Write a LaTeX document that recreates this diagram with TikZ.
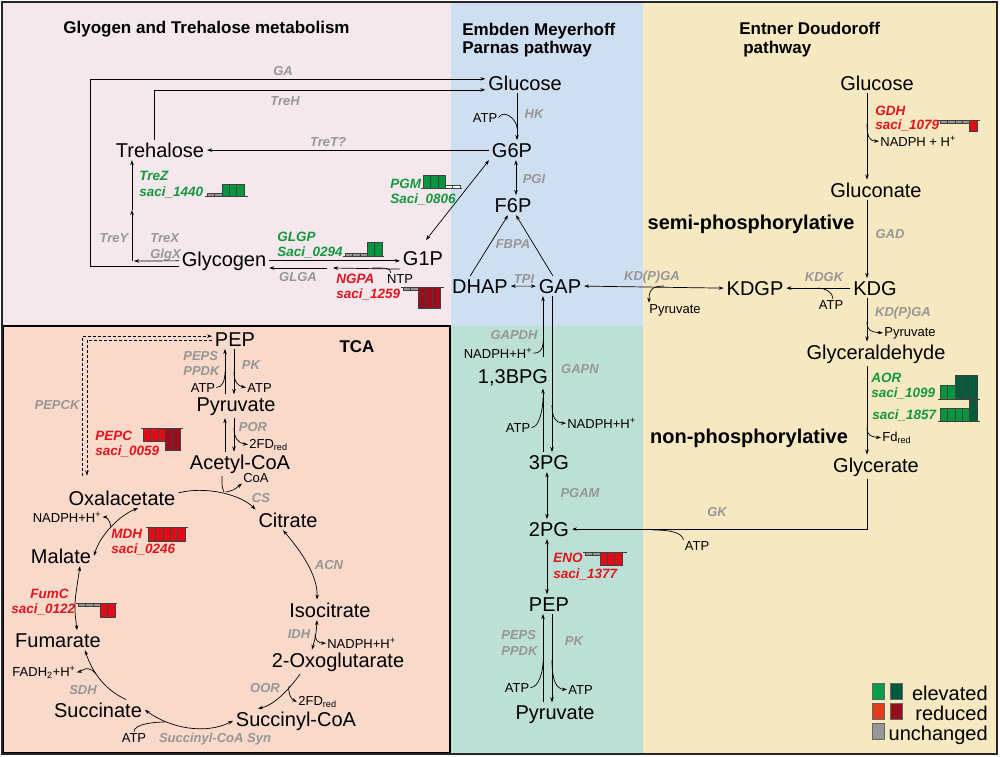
\documentclass[tikz,border=0pt]{standalone}
\usepackage{fontspec}
\setmainfont{Liberation Sans}
\usetikzlibrary{arrows.meta,calc}
\definecolor{bgPink}{RGB}{245,232,237}
\definecolor{bgBlue}{RGB}{207,223,242}
\definecolor{bgYel}{RGB}{246,232,192}
\definecolor{bgSal}{RGB}{249,217,202}
\definecolor{bgTeal}{RGB}{189,224,214}
\definecolor{enzGray}{RGB}{150,150,150}
\definecolor{geneGreen}{RGB}{20,150,60}
\definecolor{geneRed}{RGB}{228,18,28}
\definecolor{barLG}{RGB}{0,150,64}
\definecolor{barDG}{RGB}{0,92,58}
\definecolor{barLR}{RGB}{226,10,22}
\definecolor{barDR}{RGB}{152,14,30}
\definecolor{barGY}{RGB}{150,150,150}
\definecolor{legLG}{RGB}{0,158,74}
\definecolor{legDG}{RGB}{0,90,62}
\definecolor{legLR}{RGB}{226,60,30}
\definecolor{legDR}{RGB}{150,14,28}
\newcommand{\hbars}[4]{%
  \foreach \hh/\cc [count=\ii from 0] in {#4} {
    \filldraw[fill=\cc, draw=black!75, line width=0.4pt] ({#1+\ii*7.4},#2) rectangle ++(7.4,{-1*(\hh)});
  }
  \draw[line width=0.6pt, black!75] ({#1-2},#2) -- (#3,#2);
}
\begin{document}
\begin{tikzpicture}[x=1pt,y=-1pt,line width=0.7pt,
  met/.style={font=\fontsize{20}{22}\selectfont, inner sep=2pt, outer sep=1pt, anchor=base},
  sm/.style={font=\fontsize{13}{15}\selectfont, inner sep=1pt, anchor=base},
  enz/.style={font=\fontsize{13}{15}\selectfont\bfseries\itshape, text=enzGray, inner sep=0pt, anchor=base},
  gu/.style={font=\fontsize{13.5}{15}\selectfont\bfseries\itshape, text=geneGreen, inner sep=0pt, anchor=base west},
  gd/.style={font=\fontsize{13.5}{15}\selectfont\bfseries\itshape, text=geneRed, inner sep=0pt, anchor=base west},
  ttl/.style={font=\fontsize{17}{20}\selectfont\bfseries, inner sep=0pt, anchor=base west},
  big/.style={font=\fontsize{20}{22}\selectfont\bfseries, inner sep=0pt, anchor=base},
  leg/.style={font=\fontsize{20}{22}\selectfont, inner sep=0pt, anchor=base east},
  arr/.style={-{Stealth[length=5pt,width=3.5pt]}},
  darr/.style={{Stealth[length=5pt,width=3.5pt]}-{Stealth[length=5pt,width=3.5pt]}},
  dsh/.style={dash pattern=on 3pt off 2pt}]
\useasboundingbox (0,0) rectangle (1000,756);
% backgrounds
\fill[bgPink] (2,2) rectangle (451,326);
\fill[bgBlue] (451,2) rectangle (643,326);
\fill[bgYel] (643,2) rectangle (998,754);
\fill[bgSal] (3,326) rectangle (450,753);
\fill[bgTeal] (450,326) rectangle (643,754);
\draw[line width=1.5pt] (3,326) rectangle (450,753);
\draw[line width=2pt, black!85] (2,2) rectangle (997,754);

% ===== Glycogen / trehalose =====
\node[ttl] (t1) at (63,33) {Glyogen and Trehalose metabolism};
\node[met] (treh) at (160,157) {Trehalose};
\node[met] (glyc) at (224,266) {Glycogen};
\node[met] (g1p) at (423,265) {G1P};
\node[enz] (lGA) at (283,75) {GA};
\node[enz] (lTreH) at (285,105) {TreH};
\node[enz] (lTreT) at (328,146) {TreT?};
\node[enz] (lTreY) at (114,242) {TreY};
\node[enz, anchor=base west] (lTreX) at (150,242) {TreX};
\node[enz, anchor=base west] (lGlgX) at (150,258) {GlgX};
\node[enz] (lGLGA) at (298,281) {GLGA};
\node[sm] (ntp) at (400,283) {NTP};
\node[gu] (lTreZ) at (139,180) {TreZ};
\node[gu] (lTreZ2) at (139,196) {saci\_1440};
\node[gu] (lPGM) at (390,188) {PGM};
\node[gu] (lPGM2) at (390,203) {Saci\_0806};
\node[gu] (lGLGP) at (277,241) {GLGP};
\node[gu] (lGLGP2) at (277,256) {Saci\_0294};
\node[gd] (lNGPA) at (336,283) {NGPA};
\node[gd] (lNGPA2) at (336,298) {saci\_1259};
\hbars{207}{196}{248}{3/barGY,3/barGY,12/barLG,12/barLG,12/barLG}
\hbars{423}{188}{462}{13/barLG,13/barLG,13/barLG,3/white,3/white}
\hbars{345}{256}{384}{3/barGY,3/barGY,3/barGY,14/barLG,14/barLG}
\hbars{403}{287}{444}{-3/barGY,-3/barGY,-21/barDR,-21/barDR,-21/barDR}

% ===== EMP =====
\node[ttl] (t2a) at (462,35) {Embden Meyerhoff};
\node[ttl] (t2b) at (462,53) {Parnas pathway};
\node[met] (gluE) at (525,90) {Glucose};
\node[met] (g6p) at (512,157) {G6P};
\node[met] (f6p) at (513,212) {F6P};
\node[met] (dhap) at (480,293) {DHAP};
\node[met] (gap) at (560,293) {GAP};
\node[sm] (atp1) at (485,122) {ATP};
\node[enz] (lHK) at (534,118) {HK};
\node[enz] (lPGI) at (534,183) {PGI};
\node[enz] (lFBPA) at (513,248) {FBPA};
\node[enz] (lTPI) at (524,283) {TPI};
\node[enz] (lKDPGA1) at (652,280) {KD(P)GA};
\node[sm] (pyrA) at (675,313) {Pyruvate};

% ===== ED =====
\node[ttl] (t3a) at (739,34) {Entner Doudoroff};
\node[ttl] (t3b) at (743,53) {pathway};
\node[met] (gluD) at (877,90) {Glucose};
\node[met] (gcn) at (876,197) {Gluconate};
\node[met] (kdg) at (875,295) {KDG};
\node[met] (kdgp) at (755,295) {KDGP};
\node[met] (gald) at (876,359) {Glyceraldehyde};
\node[met] (glyt) at (876,472) {Glycerate};
\node[big] (semi) at (751,229) {semi-phosphorylative};
\node[big] (nonp) at (749,443) {non-phosphorylative};
\node[gd] (lGDH) at (875,115) {GDH};
\node[gd] (lGDH2) at (875,129) {saci\_1079};
\hbars{940}{120}{980}{-3/barGY,-3/barGY,-3/barGY,-3/barGY,-11/barLR}
\node[sm, anchor=base west] (nadph1) at (879,146) {NADPH + H\textsuperscript{+}};
\node[enz] (lGAD) at (890,238) {GAD};
\node[enz] (lKDGK) at (824,281) {KDGK};
\node[sm] (atp2) at (831,309) {ATP};
\node[enz] (lKDPGA2) at (903,316) {KD(P)GA};
\node[sm, anchor=base west] (pyrB) at (883,336) {Pyruvate};
\node[gu] (lAOR) at (871,382) {AOR};
\node[gu] (lAOR2) at (871,397) {saci\_1099};
\node[gu] (l1857) at (872,419) {saci\_1857};
\hbars{940}{399}{980}{14/barLG,14/barLG,24/barDG,24/barDG,24/barDG}
\hbars{940}{421}{980}{13/barLG,13/barLG,13/barLG,13/barLG,21/barDG}
\node[sm, anchor=base west] (fd0) at (881,441) {Fd\textsubscript{red}};
\node[enz] (lGK) at (717,516) {GK};
\node[sm] (atp3) at (697,550) {ATP};

% legend
\filldraw[fill=legLG, draw=black!60, line width=0.4pt] (872,683) rectangle (884,699);
\filldraw[fill=legDG, draw=black!60, line width=0.4pt] (890,683) rectangle (902,699);
\filldraw[fill=legLR, draw=black!60, line width=0.4pt] (872,703) rectangle (884,719);
\filldraw[fill=legDR, draw=black!60, line width=0.4pt] (890,703) rectangle (902,719);
\filldraw[fill=barGY, draw=black!60, line width=0.4pt] (872,723) rectangle (884,739);
\node[leg] (lgE) at (988,700) {elevated};
\node[leg] (lgR) at (988,720) {reduced};
\node[leg] (lgU) at (988,740) {unchanged};

% ===== EMP lower =====
\node[met] (bpg) at (513,383) {1,3BPG};
\node[met] (pg3) at (549,469) {3PG};
\node[met] (pg2) at (549,536) {2PG};
\node[met] (pep2) at (549,611) {PEP};
\node[met] (pyr2) at (555,719) {Pyruvate};
\node[enz] (lGAPDH) at (514,339) {GAPDH};
\node[sm] (nadph2) at (498,358) {NADPH+H\textsuperscript{+}};
\node[enz] (lGAPN) at (580,373) {GAPN};
\node[sm, anchor=base west] (nadph3) at (566,428) {NADPH+H\textsuperscript{+}};
\node[sm] (atp4) at (518,432) {ATP};
\node[enz] (lPGAM) at (580,497) {PGAM};
\node[gd] (lENO) at (553,562) {ENO};
\node[gd] (lENO2) at (553,578) {saci\_1377};
\hbars{585}{552}{627}{-3/barGY,-3/barGY,-13/barLR,-13/barLR,-13/barLR}
\node[enz, anchor=base west] (lPEPS2) at (501,639) {PEPS};
\node[enz, anchor=base west] (lPPDK2) at (501,655) {PPDK};
\node[enz] (lPK2) at (574,645) {PK};
\node[sm] (atp5) at (517,692) {ATP};
\node[sm, anchor=base west] (atp6) at (567,694) {ATP};

% ===== TCA =====
\node[ttl, anchor=base] (t4) at (357,352) {TCA};
\node[met] (pep1) at (235,346) {PEP};
\node[met] (pyr1) at (236,411) {Pyruvate};
\node[met] (acoa) at (240,469) {Acetyl-CoA};
\node[met] (oaa) at (122,505) {Oxalacetate};
\node[met] (cit) at (288,527) {Citrate};
\node[met] (icit) at (330,617) {Isocitrate};
\node[met] (og) at (338,667) {2-Oxoglutarate};
\node[met] (sco) at (296,726) {Succinyl-CoA};
\node[met] (suc) at (98,717) {Succinate};
\node[met] (fum) at (58,647) {Fumarate};
\node[met] (mal) at (61,563) {Malate};
\node[enz, anchor=base west] (lPEPS1) at (183,360) {PEPS};
\node[enz, anchor=base west] (lPPDK1) at (183,375) {PPDK};
\node[enz] (lPK1) at (251,369) {PK};
\node[sm] (atp7) at (203,392) {ATP};
\node[sm, anchor=base west] (atp8) at (246,392) {ATP};
\node[enz] (lPOR) at (253,431) {POR};
\node[sm, anchor=base west] (fd1) at (248,448) {2FD\textsubscript{red}};
\node[sm] (coa) at (256,482) {CoA};
\node[enz] (lCS) at (261,502) {CS};
\node[enz] (lACN) at (329,569) {ACN};
\node[enz] (lIDH) at (299,638) {IDH};
\node[sm, anchor=base west] (nadph4) at (326,648) {NADPH+H\textsuperscript{+}};
\node[enz] (lOOR) at (265,692) {OOR};
\node[sm, anchor=base west] (fd2) at (297,705) {2FD\textsubscript{red}};
\node[sm] (atp9) at (134,742) {ATP};
\node[enz] (lSCS) at (215,742) {Succinyl-CoA Syn};
\node[enz] (lSDH) at (83,694) {SDH};
\node[sm] (fadh) at (44,676) {FADH\textsubscript{2}+H\textsuperscript{+}};
\node[gd] (lFumC) at (30,598) {FumC};
\node[gd] (lFumC2) at (11,613) {saci\_0122};
\hbars{78}{603}{117}{-3/barGY,-3/barGY,-3/barGY,-14/barLR,-14/barLR}
\node[sm] (nadph5) at (67,522) {NADPH+H\textsuperscript{+}};
\node[gd] (lMDH) at (111,538) {MDH};
\node[gd] (lMDH2) at (111,553) {saci\_0246};
\hbars{148}{527}{188}{-14/barLR,-14/barLR,-14/barLR,-14/barLR,-14/barLR}
\node[gd] (lPEPC) at (95,440) {PEPC};
\node[gd] (lPEPC2) at (95,455) {saci\_0059};
\hbars{143}{428}{183}{-13/barLR,-13/barLR,-13/barLR,-22/barDR,-22/barDR}
\node[enz] (lPEPCK) at (57,409) {PEPCK};

% ===== connectors: glycogen / trehalose =====
\coordinate (mo) at (132,261);
\coordinate (mot) at (132,210);
\coordinate (ndpg) at (330,268);
\draw[arr] ([yshift=-6pt]glyc.west) -- ++(-88,0) |- ([yshift=4pt]gluE.west);
\draw[arr] ([xshift=-6pt]treh.north) |- ([yshift=-7pt]gluE.west);
\draw[arr] (g6p.west) -- (g6p.west -| treh.east);
\draw[arr] (glyc.west) -- ([xshift=2pt]mo);
\draw[arr] (mo) -- (mot);
\draw[arr] (mot) -- (mot |- treh.south);
\draw[arr] (glyc.east) -- (glyc.east -| g1p.west);
\draw[arr] ([yshift=-11pt]g1p.west) -- ([xshift=3pt]ndpg);
\draw[arr] ([xshift=-3pt]ndpg) -- (ndpg -| glyc.east);
\draw ([xshift=5pt]ntp.north west) .. controls +(0,-5) and +(14,0) .. (372,268);
\draw[darr] ([shift={(3pt,8pt)}]g1p.north) -- (g6p.south west);

% ===== connectors: EMP =====
\coordinate (cE) at (517,0);
\coordinate (cE2) at (516,0);
\draw[arr] (cE |- gluE.south) -- (cE |- g6p.north);
\draw (atp1.east) .. controls +(6,-9) and +(0,-8) .. (517,128);
\draw[darr] (cE2 |- g6p.south) -- (cE2 |- f6p.north);
\draw[arr] ([xshift=-10pt]dhap.north) -- ([xshift=-5pt]f6p.south);
\draw[arr] ([xshift=-7pt]gap.north) -- ([xshift=3pt]f6p.south);
\draw[darr] (dhap.east) -- (gap.west);
\draw[darr] (gap.east) -- (kdgp.west);
\draw[arr] (664,286) .. controls (652,286) and (649,290) .. ([xshift=1pt]pyrA.north west);

% ===== connectors: ED =====
\coordinate (cD) at (867,0);
\draw[arr] (cD |- gluD.south) -- (cD |- gcn.north);
\draw[arr] (867,124) .. controls (867,138) and (870,141) .. (nadph1.west);
\draw[arr] (cD |- gcn.south) -- (cD |- kdg.north);
\draw[arr] (kdg.west) -- (kdgp.east);
\draw ([xshift=2pt]atp2.north) .. controls +(0,-7) and +(6,0) .. (818,288);
\draw[arr] (cD |- kdg.south) -- (cD |- gald.north);
\draw[arr] (867,322) .. controls (867,330) and (870,332) .. (pyrB.west);
\draw[arr] (cD |- gald.south) -- (cD |- glyt.north);
\draw[arr] (867,428) .. controls (867,435) and (871,437) .. (fd0.west);
\draw[arr] (cD |- glyt.south) |- (pg2.east);
\draw (atp3.north west) .. controls +(-2,-8) and +(15,0) .. (653,530);

% ===== connectors: EMP lower =====
\coordinate (cL) at (543,0);
\coordinate (cR) at (552,0);
\coordinate (cM) at (547,0);
\draw[arr] ($(cL |- bpg.north)+(0,-9)$) -- (cL |- gap.south);
\draw (nadph2.east) .. controls +(6,0) and +(0,8) .. (543,342);
\draw[arr] (cR |- gap.south) -- (cR |- pg3.north);
\draw[arr] (552,405) .. controls (552,418) and (556,423) .. (nadph3.west);
\draw[arr] (cL |- pg3.north) -- (cL |- bpg.south);
\draw (atp4.east) .. controls +(8,0) and +(0,10) .. (543,398);
\draw[darr] (cM |- pg3.south) -- (cM |- pg2.north);
\draw[darr] (cM |- pg2.south) -- (cM |- pep2.north);
\draw[arr] (cR |- pep2.south) -- (cR |- pyr2.north);
\draw[arr] (cL |- pyr2.north) -- (cL |- pep2.south);
\draw (atp5.east) .. controls +(8,0) and +(0,10) .. (543,662);
\draw[arr] (552,660) .. controls (552,680) and (556,689) .. (atp6.west);

% ===== connectors: TCA =====
\coordinate (cA) at (225,0);
\coordinate (cB) at (234,0);
\draw[arr] (cB |- pep1.south) -- (cB |- pyr1.north);
\draw[arr] (cA |- pyr1.north) -- (cA |- pep1.south);
\draw (atp7.east) .. controls +(6,0) and +(0,8) .. (225,372);
\draw[arr] (234,372) .. controls (234,382) and (238,386) .. (atp8.west);
\draw[arr] (cB |- pyr1.south) -- (cB |- acoa.north);
\draw[arr] (cA |- acoa.north) -- (cA |- pyr1.south);
\draw[arr] (234,428) .. controls (234,438) and (238,443) .. (fd1.west);
\draw[arr] ([yshift=5pt]oaa.east) .. controls (205,486) and (240,494) .. (cit.north west);
\draw ([xshift=-18pt]acoa.south) .. controls +(0,12) and +(-2,-4) .. (224,492);
\draw[arr] (226,492) .. controls (234,490) .. (coa.south west);
\draw[darr] ([xshift=-5pt]cit.south) .. controls (300,550) and (318,575) .. ([xshift=-13pt]icit.north);
\draw[darr] ([xshift=-13pt]icit.south) .. controls (316,635) .. ([xshift=-26pt]og.north);
\draw[arr] (315,634) .. controls (315,640) and (318,643) .. (nadph4.west);
\draw[arr] ([xshift=-38pt]og.south) .. controls (290,688) and (275,705) .. ([xshift=-38pt]sco.north);
\draw[arr] (289,686) .. controls (288,694) and (291,699) .. (fd2.west);
\draw[darr] (sco.west) .. controls (205,735) and (170,728) .. (suc.east);
\draw (atp9.north) .. controls +(0,-8) and +(-10,0) .. (165,722);
\draw[arr] ([xshift=28pt]suc.north) .. controls (105,690) and (92,672) .. ([xshift=27pt]fum.south);
\draw[arr] (96,674) .. controls (88,664) and (82,671) .. (fadh.east);
\draw[darr] ([xshift=19pt]fum.north) .. controls (74,605) .. ([xshift=19pt]mal.south);
\draw[darr] (mal.east) .. controls (100,535) and (120,515) .. ([xshift=16pt]oaa.south);
\draw[arr] (111,527) .. controls (110,520) and (106,517) .. (nadph5.east);
\draw[arr, dsh] ([shift={(-40pt,12pt)}]oaa.north) |- ([yshift=3pt]pep1.west);
\draw[arr, dsh] ([yshift=-1pt]pep1.west) -| ([shift={(-35pt,12pt)}]oaa.north);
\end{tikzpicture}
\end{document}
